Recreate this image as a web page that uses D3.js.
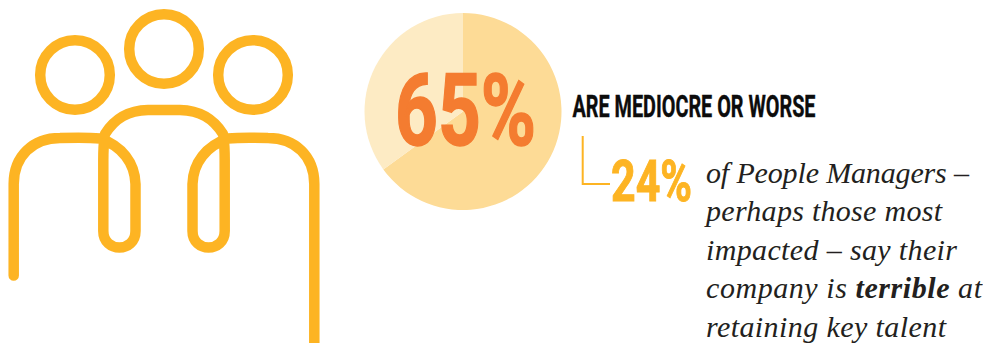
<!DOCTYPE html>
<html>
<head>
<meta charset="utf-8">
<script src="https://cdn.jsdelivr.net/npm/d3@7/dist/d3.min.js"></script>
<style>
html,body{margin:0;padding:0;background:#fff;overflow:hidden}
svg{display:block}
</style>
</head>
<body>
<svg id="chart" width="983" height="343"></svg>
<script>
// Share of respondents rating their company mediocre or worse
const sliceLabels = ["Mediocre or worse", "Other"];
const sliceValues = [65, 35];
const sliceColors = ["#fddb96", "#fdebc4"];
const headlineValue = "65%";
const headlineCaption = "ARE MEDIOCRE OR WORSE";
const subValue = "24%";
const bodyLines = [
  [["of People Managers –", false]],
  [["perhaps those most", false]],
  [["impacted – say their", false]],
  [["company is ", false], ["terrible", true], [" at", false]],
  [["retaining key talent", false]]
];

const svg = d3.select("#chart");
const amber = "#fdb423";
const orange = "#f47c30";
const condensed = "Roboto, sans-serif";

// People icon: three heads and three overlapping shoulder outlines
const icon = svg.append("g").attr("fill", "none").attr("stroke", amber)
  .attr("stroke-width", 10.5).attr("stroke-linecap", "round");
[[75, 75], [164, 49], [253, 75]].forEach(([cx, cy]) => {
  icon.append("circle").attr("cx", cx).attr("cy", cy).attr("r", 34.8);
});

function sidePerson(ctx, end) {
  ctx.moveTo(13.7, end);
  ctx.lineTo(13.7, 184);
  ctx.bezierCurveTo(13.7, 156, 33, 138, 60, 138);
  ctx.bezierCurveTo(75, 137.5, 90, 137.5, 100, 138.5);
  ctx.bezierCurveTo(122, 146, 135, 163, 135.5, 184);
  ctx.lineTo(135.5, 231);
  ctx.bezierCurveTo(135.5, 253, 103.3, 253, 103.3, 231);
  ctx.lineTo(103.3, 160);
  ctx.bezierCurveTo(103.3, 150, 103.5, 145, 104.5, 137);
  return ctx;
}
const leftPerson = sidePerson(d3.path(), 275.5);
const midPerson = d3.path();
midPerson.moveTo(105, 134);
midPerson.bezierCurveTo(115, 118, 128, 110.5, 148, 110);
midPerson.lineTo(180, 110);
midPerson.bezierCurveTo(200, 110.5, 213, 118, 223, 134);
const rightPerson = sidePerson(d3.path(), 360);

icon.append("path").attr("d", leftPerson.toString());
icon.append("path").attr("d", midPerson.toString());
icon.append("path").attr("d", rightPerson.toString())
  .attr("transform", "translate(328,0) scale(-1,1)");

// Pie of the headline figure, running clockwise from twelve o'clock
const pie = d3.pie().sort(null).value(d => d);
const arc = d3.arc().innerRadius(0).outerRadius(98.5);
svg.append("g").attr("transform", "translate(463,111.5)")
  .selectAll("path").data(pie(sliceValues)).join("path")
  .attr("d", arc).attr("fill", (d, i) => sliceColors[i])
  .append("title").text((d, i) => sliceLabels[i]);

// Tall, squeezed display figures with a slight outline for extra weight
function condensedText(str, x, y, size, width, fill, outline) {
  return svg.append("text").attr("x", x).attr("y", y)
    .attr("font-family", condensed).attr("font-weight", 700)
    .attr("font-size", size).attr("fill", fill)
    .attr("stroke", fill).attr("stroke-width", outline)
    .attr("textLength", width).attr("lengthAdjust", "spacingAndGlyphs")
    .text(str);
}
condensedText(headlineValue, 395, 144.5, 101, 141, orange, 1.5);
condensedText(headlineCaption, 572.5, 117, 31.5, 243, "#0c0c0c", 0.4);
condensedText(subValue, 611, 200.5, 57, 81, amber, 1);

// Elbow rule linking the caption to the sub-statistic
const elbow = d3.path();
elbow.moveTo(582.7, 136);
elbow.lineTo(582.7, 184);
elbow.lineTo(610, 184);
svg.append("path").attr("d", elbow.toString()).attr("fill", "none")
  .attr("stroke", amber).attr("stroke-width", 2);

// Italic explanatory paragraph; each line is set to its measure
const lineMeasures = [263, 236, 251, 276, 240];
const lineY = d3.scaleLinear().domain([0, bodyLines.length - 1]).range([183, 336.5]);
svg.append("g").attr("font-family", "'Liberation Serif', serif")
  .attr("font-style", "italic").attr("font-size", 30).attr("fill", "#231f20")
  .selectAll("text").data(bodyLines).join("text")
  .attr("x", 706).attr("y", (d, i) => lineY(i))
  .attr("textLength", (d, i) => lineMeasures[i])
  .style("white-space", "pre")
  .selectAll("tspan").data(d => d).join("tspan")
  .attr("font-weight", d => d[1] ? 700 : 400)
  .text(d => d[0]);
</script>
</body>
</html>
